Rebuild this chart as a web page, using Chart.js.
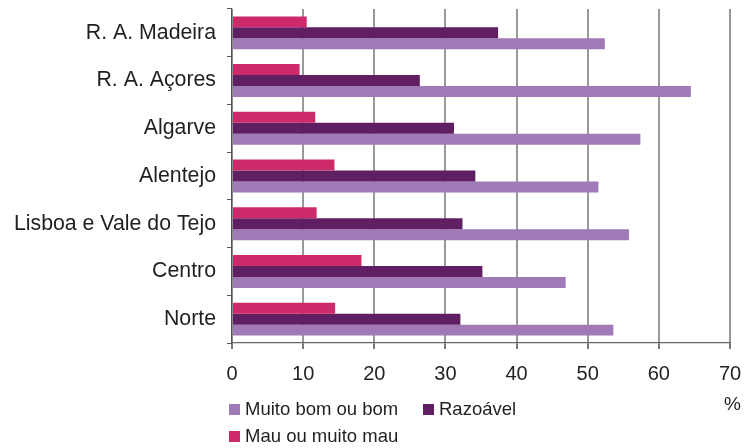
<!DOCTYPE html>
<html>
<head>
<meta charset="utf-8">
<script src="https://cdn.jsdelivr.net/npm/chart.js@4"></script>
<style>
  body { margin: 0; background: #fff; }
  #wrap { position: relative; width: 746px; height: 448px; font-family: "Liberation Sans", Arial, sans-serif; color: #231f20; }
  canvas { position: absolute; left: 0; top: 0; }
  .leg { position: absolute; font-size: 18.5px; line-height: 20px; white-space: nowrap; }
  .leg i { display: inline-block; width: 11px; height: 11px; margin-right: 5px; vertical-align: 0px; }
  #pct { position: absolute; left: 724px; top: 393px; font-size: 19px; }
</style>
</head>
<body>
<div id="wrap">
  <canvas id="chart" width="746" height="448"></canvas>
  <div class="leg" style="left:229px; top:399px;"><i style="background:#a07ab6"></i>Muito bom ou bom</div>
  <div class="leg" style="left:423px; top:399px;"><i style="background:#5f1f62"></i>Razoável</div>
  <div class="leg" style="left:229px; top:426px;"><i style="background:#cc2a68"></i>Mau ou muito mau</div>
  <div id="pct">%</div>
</div>
<script>
  const regions = ['R. A. Madeira', 'R. A. Açores', 'Algarve', 'Alentejo', 'Lisboa e Vale do Tejo', 'Centro', 'Norte'];
  const mau = [10.5, 9.5, 11.7, 14.4, 11.9, 18.2, 14.5];
  const razoavel = [37.4, 26.4, 31.2, 34.2, 32.4, 35.2, 32.1];
  const muitoBom = [52.4, 64.5, 57.4, 51.5, 55.8, 46.9, 53.6];
  const xTicks = [0, 10, 20, 30, 40, 50, 60, 70];

  const ctx = document.getElementById('chart').getContext('2d');
  new Chart(ctx, {
    type: 'bar',
    data: {
      labels: regions,
      datasets: [
        { label: 'Mau ou muito mau', data: mau, backgroundColor: '#cc2a68' },
        { label: 'Razoável', data: razoavel, backgroundColor: '#5f1f62' },
        { label: 'Muito bom ou bom', data: muitoBom, backgroundColor: '#a07ab6' }
      ]
    },
    options: {
      indexAxis: 'y',
      responsive: false,
      animation: false,
      categoryPercentage: 0.69,
      barPercentage: 1,
      layout: { padding: { left: 0, right: 16, top: 9, bottom: 65 } },
      plugins: { legend: { display: false }, tooltip: { enabled: false } },
      scales: {
        x: {
          min: 0,
          max: 70,
          afterBuildTicks: (scale) => { scale.ticks = xTicks.map(v => ({ value: v })); },
          afterFit: (scale) => {
            scale.height = 40;
            scale.paddingLeft = 0;
            scale.paddingRight = 0;
          },
          grid: { color: '#999', lineWidth: 2, tickLength: 6, tickColor: '#777' },
          border: { color: '#666', width: 1.2 },
          ticks: { color: '#231f20', font: { family: 'Liberation Sans', size: 20 }, padding: 13, maxRotation: 0 }
        },
        y: {
          afterFit: (scale) => {
            scale.width = 232;
            scale.paddingTop = 0;
            scale.paddingBottom = 0;
          },
          grid: { offset: true, drawOnChartArea: false, tickLength: 5, tickColor: '#555' },
          border: { color: '#555', width: 1.2 },
          ticks: { color: '#231f20', font: { family: 'Liberation Sans', size: 21.3 }, padding: 11 }
        }
      }
    }
  });
</script>
</body>
</html>
